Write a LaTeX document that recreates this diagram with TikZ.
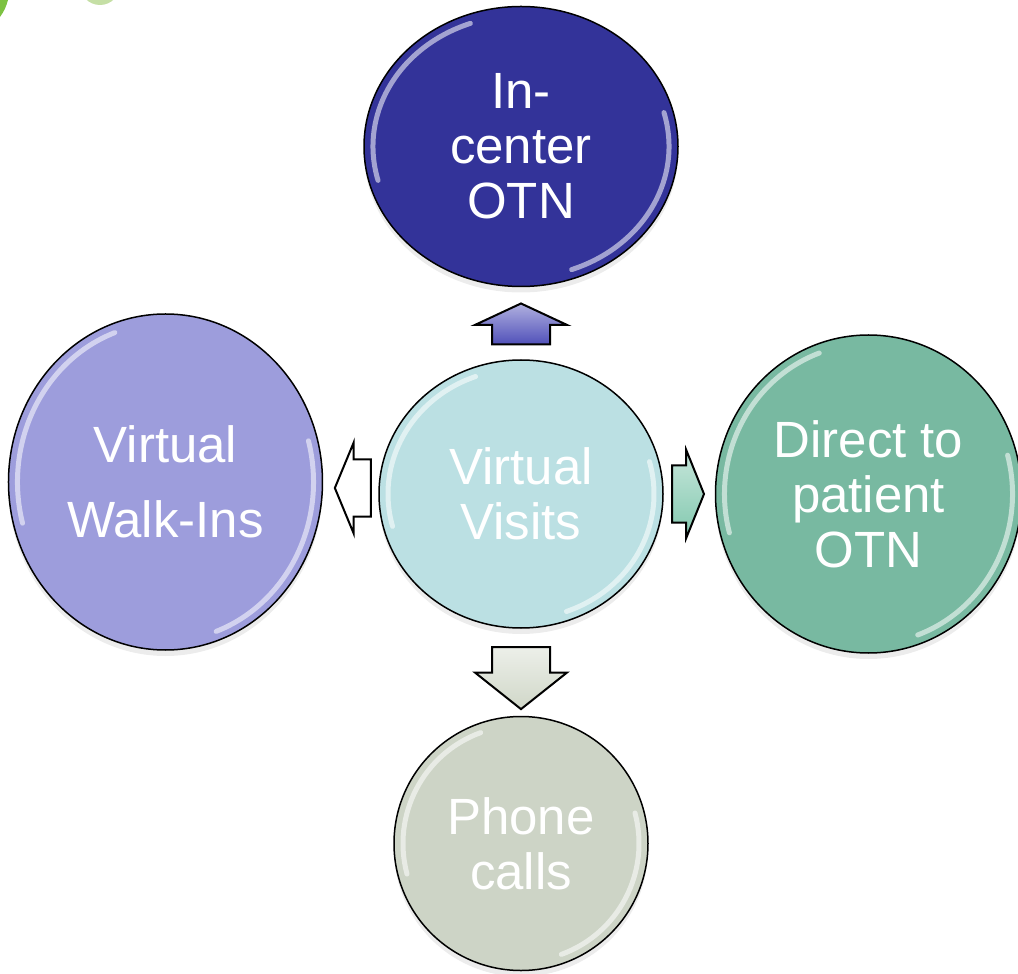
\documentclass[tikz,border=0pt]{standalone}
\usepackage{fontspec}
\setmainfont{Liberation Sans}
\usetikzlibrary{positioning, calc, shapes.geometric, shapes.arrows, shadows}
\definecolor{navy}{RGB}{51,51,153}
\definecolor{lavender}{RGB}{157,157,220}
\definecolor{aqua}{RGB}{187,224,227}
\definecolor{seagreen}{RGB}{120,185,161}
\definecolor{sage}{RGB}{205,212,198}
\definecolor{upblue}{RGB}{80,80,185}
\definecolor{mint}{RGB}{130,200,175}
\definecolor{stone}{RGB}{208,215,200}
\definecolor{leaf}{RGB}{125,194,66}
\definecolor{paleleaf}{RGB}{197,223,165}

% glossy rim on a bubble: name, x radius, y radius
\newcommand{\gloss}[3]{%
  \draw[glare] ([shift={(110:#2 and #3)}]#1.center) arc[start angle=110, end angle=195, x radius=#2, y radius=#3];
  \draw[glare] ([shift={(-70:#2 and #3)}]#1.center) arc[start angle=-70, end angle=15, x radius=#2, y radius=#3];}

\begin{document}
\begin{tikzpicture}[main/.style = {draw, ellipse, line width=0.3mm, text=white, align=center, inner sep=0pt,
                      font=\fontsize{29}{31.3}\selectfont,
                      drop shadow={opacity=.15, shadow xshift=0mm, shadow yshift=-1.2mm}},
                    arr/.style = {draw, single arrow, line width=0.4mm, minimum width=0pt,
                      single arrow head extend=3.4mm},
                    vert/.style = {arr, inner xsep=5.6mm, inner ysep=0pt},
                    horiz/.style = {arr, inner ysep=5.5mm, inner xsep=0pt},
                    glare/.style = {white, opacity=.55, line width=1mm, line cap=round}]
    \useasboundingbox (-104.2mm,-95.8mm) rectangle (99.4mm,98.8mm);
    % corner of the slide background
    \fill[leaf] (-104.2mm,98.8mm) -- (-102.6mm,98.8mm) to[bend left=10] (-104.2mm,95.4mm) -- cycle;
    \fill[paleleaf] (-84.2mm,101.8mm) circle (4mm);

    \node[main, fill=aqua, minimum width=56.8mm, minimum height=53.6mm] (V) {Virtual\\Visits};
    \node[main, fill=navy, minimum width=62.8mm, minimum height=56mm] (C) [above=14.4mm of V] {In-\\center\\OTN};
    \node[main, fill=lavender, minimum width=62.8mm, minimum height=67.2mm, font=\fontsize{29}{42.7}\selectfont]
        (W) [left=11mm of V, yshift=2.4mm] {Virtual\\Walk-Ins};
    \node[main, fill=seagreen, minimum width=61.2mm, minimum height=63.6mm] (D) [right=10.2mm of V] {Direct to\\patient\\OTN};
    \node[main, fill=sage, minimum width=50.8mm, minimum height=50.8mm] (P) [below=17.4mm of V] {Phone\\calls};

    \gloss{V}{26.6mm}{25mm}
    \gloss{C}{29.6mm}{26.2mm}
    \gloss{W}{29.6mm}{31.8mm}
    \gloss{D}{28.8mm}{30mm}
    \gloss{P}{23.6mm}{23.6mm}

    \node[vert, top color=upblue!45!white, bottom color=upblue, shape border rotate=90, minimum height=8.2mm,
        single arrow tip angle=130, yshift=-1.5mm] (toC) at ($(V.north)!.5!(C.south)$) {};
    \node[horiz, fill=white, shape border rotate=180, minimum height=7.2mm,
        single arrow tip angle=135, xshift=1.6mm] (toW) at ($(V.west)!.5!(W.east)$) {};
    \node[horiz, top color=mint!45!white, bottom color=mint, minimum height=6.4mm,
        single arrow head extend=3.1mm, single arrow tip angle=136, xshift=-1.4mm] (toD) at ($(V.east)!.5!(D.west)$) {};
    \node[vert, top color=stone!40!white, bottom color=stone, shape border rotate=270, minimum height=12.4mm,
        single arrow tip angle=103, yshift=2mm] (toP) at ($(V.south)!.55!(P.north)$) {};
\end{tikzpicture}
\end{document}
